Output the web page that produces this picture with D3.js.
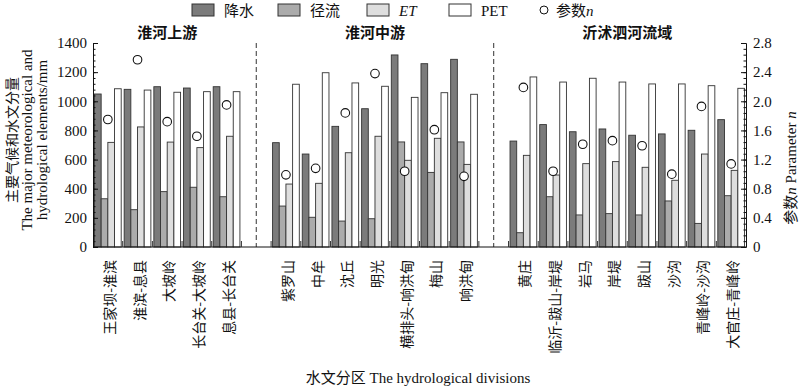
<!DOCTYPE html>
<html><head><meta charset="utf-8">
<script src="https://cdn.jsdelivr.net/npm/d3@7"></script>
<style>
body{margin:0;background:#fff;}
text{font-family:"Liberation Serif","Noto Sans CJK SC",serif;fill:#111;}
</style></head>
<body><svg id="c" width="800" height="386"></svg>
<script>
// ---- data ----
const regions = ["淮河上游", "淮河中游", "沂沭泗河流域"];
const regionOf = [0,0,0,0,0, 1,1,1,1,1,1,1, 2,2,2,2,2,2,2,2];
const categories = ["王家坝-淮滨","淮滨-息县","大坡岭","长台关-大坡岭","息县-长台关",
  "紫罗山","中牟","沈丘","明光","横排头-响洪甸","梅山","响洪甸",
  "黄庄","临沂-跋山-岸堤","岩马","岸堤","跋山","沙沟","青峰岭-沙沟","大官庄-青峰岭"];
const precipitation = [1050,1082,1100,1091,1100, 716,638,828,949,1318,1258,1288, 727,840,791,810,767,776,801,874];
const runoff        = [331,256,380,410,345, 281,204,178,194,721,512,721, 98,345,220,229,220,316,162,352];
const et            = [718,824,720,682,760, 432,437,647,760,595,746,567, 629,494,572,586,547,458,638,526];
const pet           = [1086,1077,1062,1066,1066, 1117,1196,1126,1103,1027,1059,1048, 1167,1132,1158,1132,1119,1119,1107,1089];
const paramN        = [1.75,2.57,1.72,1.52,1.95, 0.99,1.08,1.84,2.38,1.04,1.61,0.97, 2.19,1.04,1.41,1.46,1.39,1.00,1.93,1.14];
const seriesNames = ["降水","径流","ET","PET"];
const seriesColors = ["#7b7b7b","#ababab","#dedede","#ffffff"];
const leftTicks = [0,200,400,600,800,1000,1200,1400];
const rightTicks = [0,0.4,0.8,1.2,1.6,2.0,2.4,2.8];

// ---- layout ----
const svg = d3.select("#c");
const X0 = 93, X1 = 746, Y0 = 247, Y1 = 43;

// build slots with separators between regions
const slots = [];
categories.forEach((c,i)=>{
  if (i>0 && regionOf[i]!==regionOf[i-1]) slots.push("__sep"+regionOf[i]);
  slots.push(c);
});
const x = d3.scaleBand().domain(slots).range([X0,X1]).paddingInner(0.1).paddingOuter(0.05);
const xs = d3.scaleBand().domain(seriesNames).range([0,x.bandwidth()]).padding(0);
const y = d3.scaleLinear().domain([0,1400]).range([Y0,Y1]);
const yr = d3.scaleLinear().domain([0,2.8]).range([Y0,Y1]);

const rows = categories.map((c,i)=>({c, vals:[precipitation[i],runoff[i],et[i],pet[i]], n:paramN[i]}));

// bars
const g = svg.append("g");
rows.forEach(r=>{
  r.vals.forEach((v,k)=>{
    g.append("rect")
      .attr("x", x(r.c)+xs(seriesNames[k]))
      .attr("y", y(v))
      .attr("width", xs.bandwidth())
      .attr("height", y(0)-y(v))
      .attr("fill", seriesColors[k])
      .attr("stroke", "#333").attr("stroke-width", 0.9);
  });
});
// circles
svg.append("g").selectAll("circle").data(rows).join("circle")
  .attr("cx", d=>x(d.c)+xs("ET"))
  .attr("cy", d=>yr(d.n))
  .attr("r", 4.3)
  .attr("fill","#fff").attr("stroke","#111").attr("stroke-width",1.1);

// separators
slots.filter(s=>s.startsWith("__sep")).forEach(s=>{
  svg.append("line")
    .attr("x1", x(s)+x.bandwidth()/2).attr("x2", x(s)+x.bandwidth()/2)
    .attr("y1", Y1).attr("y2", Y0)
    .attr("stroke","#333").attr("stroke-width",1).attr("stroke-dasharray","5,3");
});

// left axis
const la = d3.axisRight(y).tickValues(leftTicks).tickSize(5).tickFormat("");
const lg = svg.append("g").attr("transform",`translate(${X0},0)`).call(la);
lg.select(".domain").attr("stroke","#111");
lg.append("g").call(d3.axisRight(y).tickValues(d3.range(0,1401,40)).tickSize(2.5).tickFormat(""))
  .select(".domain").remove();
lg.selectAll("line").attr("stroke","#111");
leftTicks.forEach(t=>{
  svg.append("text").attr("x",X0-6).attr("y",y(t)).attr("dy","0.35em")
    .attr("text-anchor","end").attr("font-size",15).text(t);
});
// right axis
const rg = svg.append("g").attr("transform",`translate(${X1},0)`)
  .call(d3.axisLeft(yr).tickValues(rightTicks).tickSize(5).tickFormat(""));
rg.select(".domain").attr("stroke","#111");
rg.append("g").call(d3.axisLeft(yr).tickValues(d3.range(0,2.801,0.08)).tickSize(2.5).tickFormat(""))
  .select(".domain").remove();
rg.selectAll("line").attr("stroke","#111");
rightTicks.forEach(t=>{
  svg.append("text").attr("x",X1+7).attr("y",yr(t)).attr("dy","0.35em")
    .attr("text-anchor","start").attr("font-size",15).text(t===0?"0":t.toFixed(1));
});
// bottom axis
const bg = svg.append("g").attr("transform",`translate(0,${Y0})`)
  .call(d3.axisTop(x).tickSize(0).tickFormat(""));
bg.select(".domain").attr("stroke","#111").attr("d",`M${X0},0H${X1}`);
slots.forEach((s,i)=>{ if(i>0){
  const bx = x(s) - x.step()*x.paddingInner()/2;
  svg.append("line").attr("x1",bx).attr("x2",bx).attr("y1",Y0).attr("y2",Y0-6)
    .attr("stroke","#333").attr("stroke-width",1);
}});
// category labels
rows.forEach(r=>{
  const cx = x(r.c)+x.bandwidth()/2;
  svg.append("text").attr("transform",`translate(${cx+1},260) rotate(-90)`)
    .attr("text-anchor","end").attr("dominant-baseline","central")
    .attr("font-size",14).style("font-family","'Noto Sans CJK SC',sans-serif").text(r.c);
});
// region titles
regions.forEach((rname,ri)=>{
  const members = categories.filter((c,i)=>regionOf[i]===ri);
  const a = x(members[0]), b = x(members[members.length-1])+x.bandwidth();
  svg.append("text").attr("x",(a+b)/2).attr("y",38).attr("text-anchor","middle")
    .attr("font-size",15).attr("font-weight","bold").text(rname);
});
// axis titles
svg.append("text").attr("transform","translate(17,140) rotate(-90)").attr("text-anchor","middle")
  .attr("font-size",14).style("font-family","'Noto Sans CJK SC',sans-serif").text("主要气候和水文分量");
svg.append("text").attr("transform","translate(32,140) rotate(-90)").attr("text-anchor","middle")
  .attr("font-size",15).text("The major meteorological and");
svg.append("text").attr("transform","translate(47,140) rotate(-90)").attr("text-anchor","middle")
  .attr("font-size",15).text("hydrological elements/mm");
const rt = svg.append("text").attr("transform","translate(791,168) rotate(-90)").attr("text-anchor","middle")
  .attr("dominant-baseline","central").attr("font-size",15);
rt.append("tspan").text("参数");
rt.append("tspan").attr("font-style","italic").text("n");
rt.append("tspan").text(" Parameter ");
rt.append("tspan").attr("font-style","italic").text("n");
svg.append("text").attr("x",418).attr("y",383).attr("text-anchor","middle").attr("font-size",15)
  .text("水文分区 The hydrological divisions");

// legend
const legX = [192,278,367,449];
seriesNames.forEach((s,k)=>{
  svg.append("rect").attr("x",legX[k]).attr("y",4).attr("width",22).attr("height",12)
    .attr("fill",seriesColors[k]).attr("stroke","#333").attr("stroke-width",1);
  const t = svg.append("text").attr("x",legX[k]+32).attr("y",15.5).attr("font-size",15).text(s);
  if (s==="ET") t.attr("font-style","italic");
});
svg.append("circle").attr("cx",544).attr("cy",10).attr("r",4).attr("fill","#fff").attr("stroke","#111");
const lt2 = svg.append("text").attr("x",556).attr("y",15.5).attr("font-size",15);
lt2.append("tspan").text("参数");
lt2.append("tspan").attr("font-style","italic").text("n");
</script></body></html>
